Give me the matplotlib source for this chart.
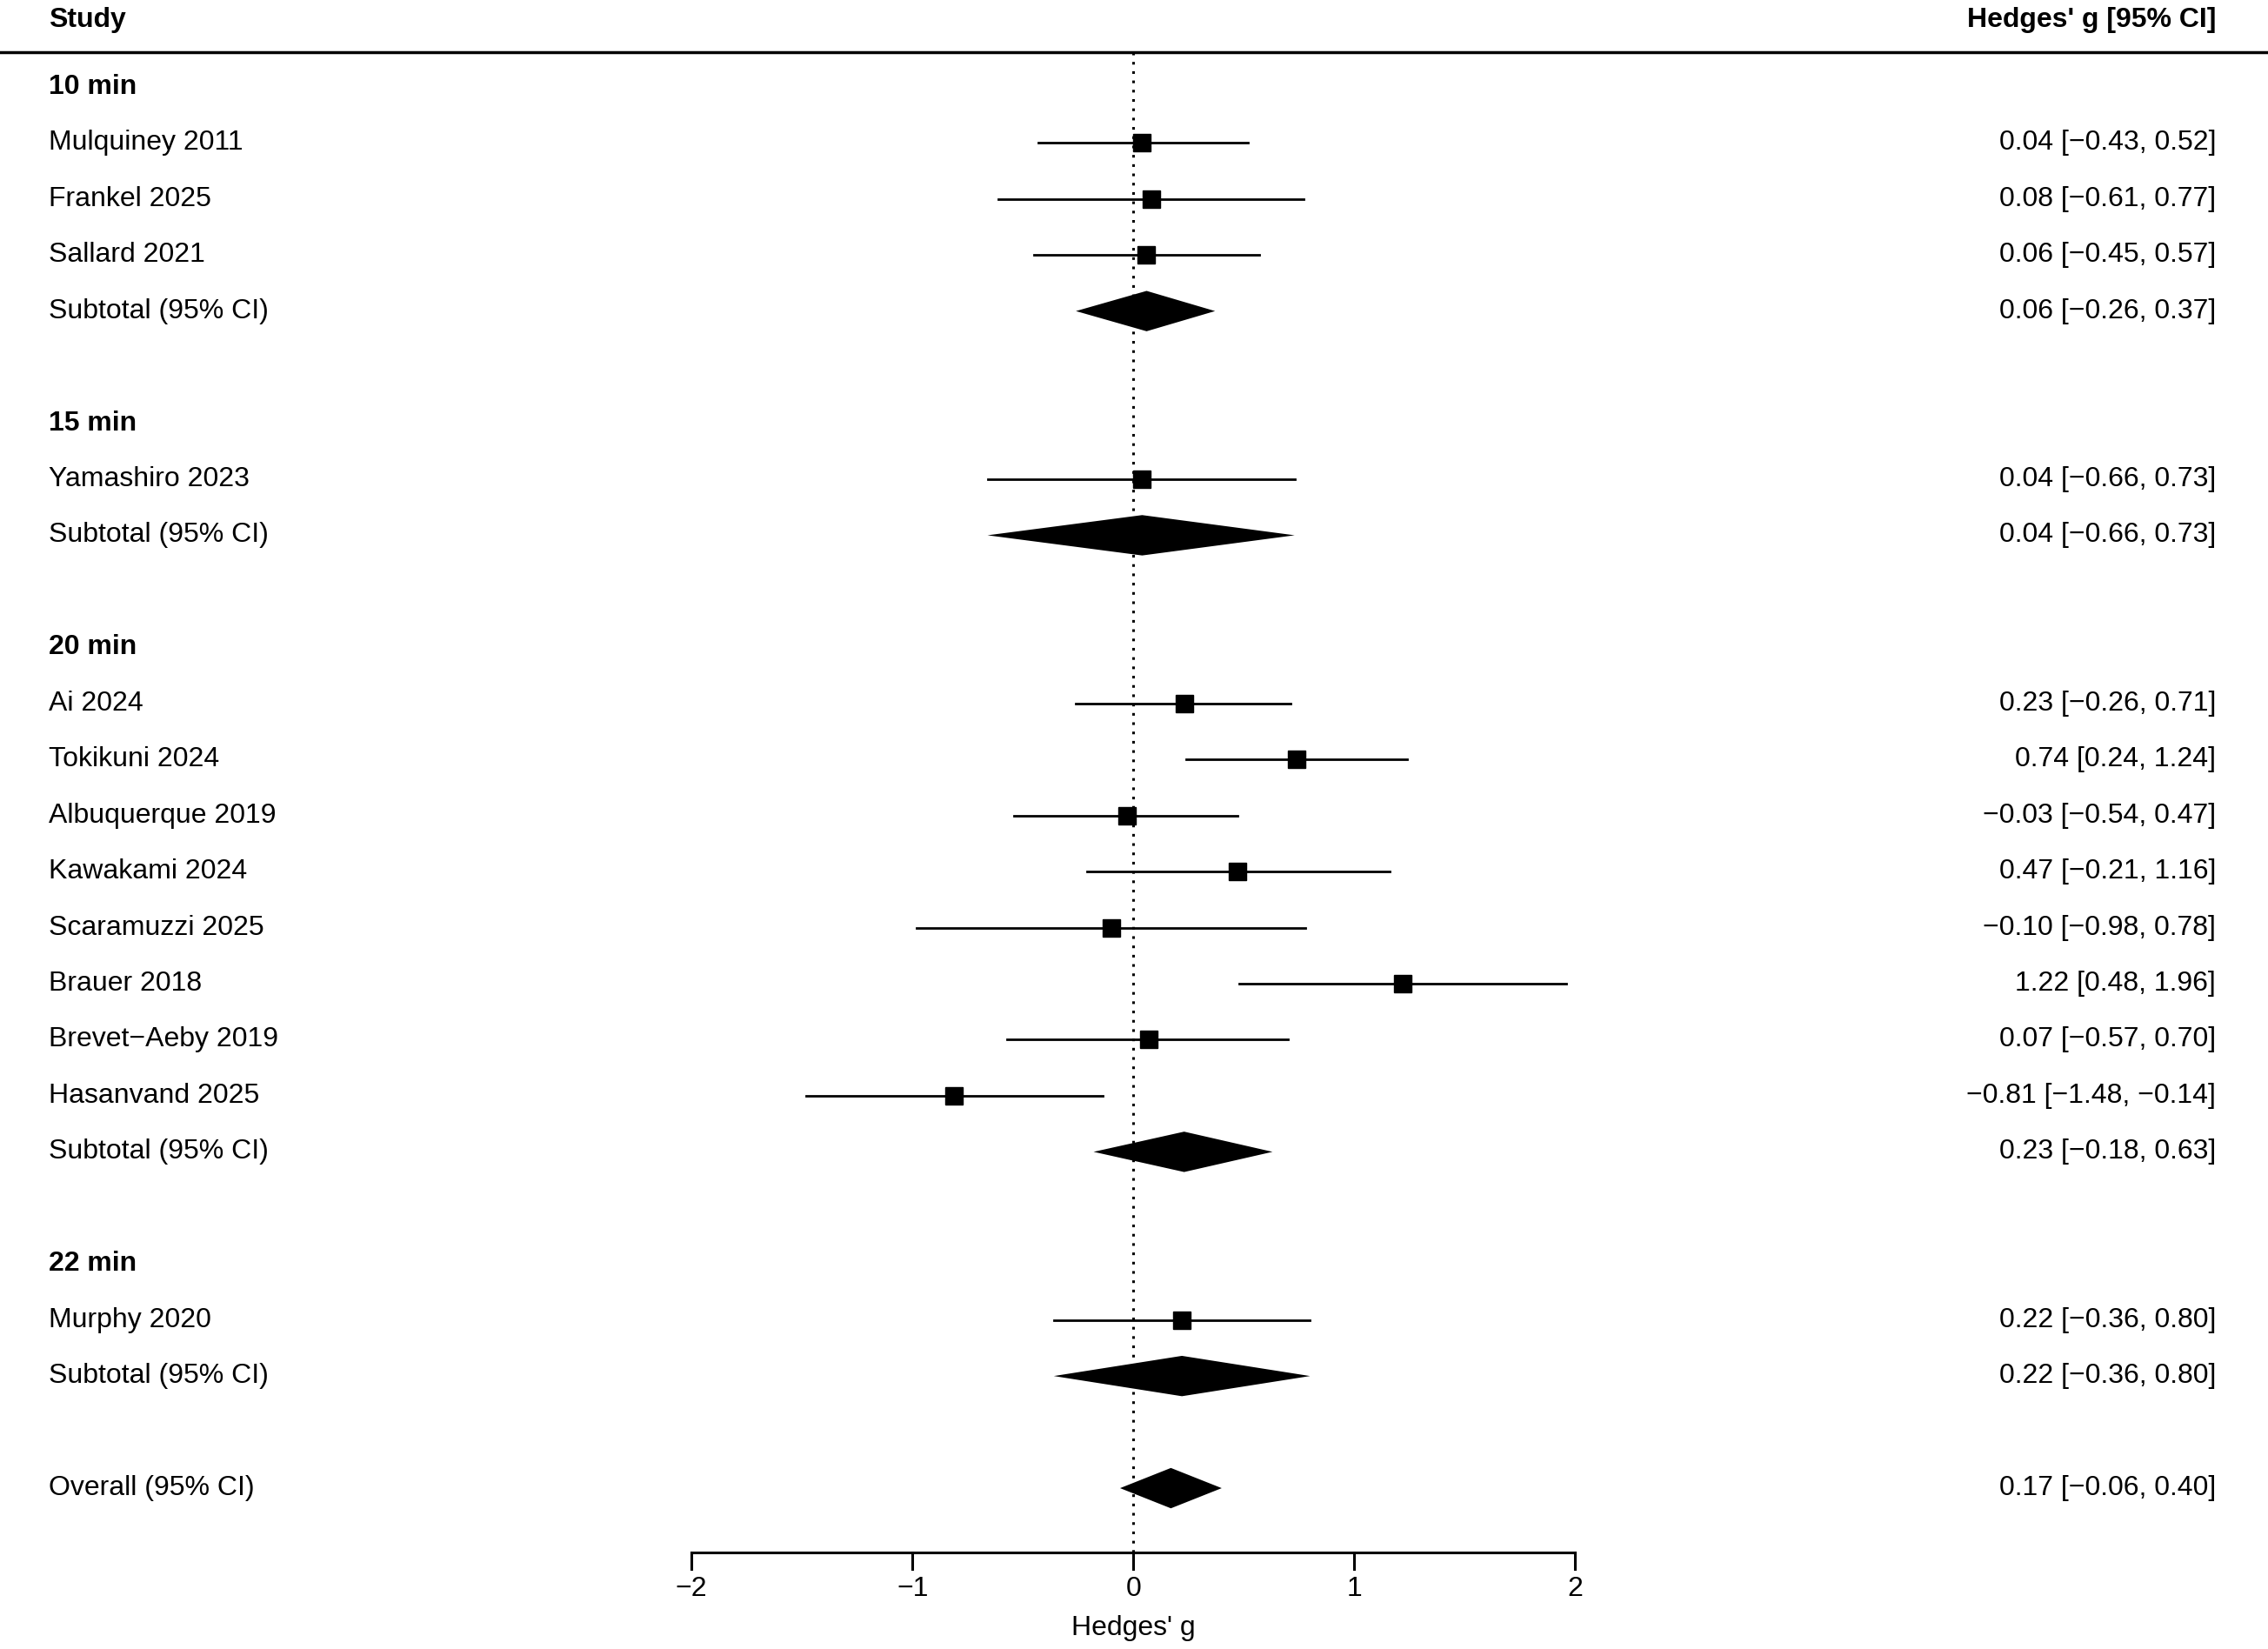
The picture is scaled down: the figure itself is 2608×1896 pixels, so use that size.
import numpy as np
import matplotlib
matplotlib.use("Agg")
import matplotlib.pyplot as plt
from matplotlib.patches import Polygon

plt.rcParams['font.family'] = ['Liberation Sans', 'DejaVu Sans']
plt.rcParams['axes.unicode_minus'] = True

# groups: (header, studies, est, lo, hi, subtotal)
groups = ["10 min", "15 min", "20 min", "22 min"]
studies = [
    ["Mulquiney 2011", "Frankel 2025", "Sallard 2021"],
    ["Yamashiro 2023"],
    ["Ai 2024", "Tokikuni 2024", "Albuquerque 2019", "Kawakami 2024",
     "Scaramuzzi 2025", "Brauer 2018", "Brevet\u2212Aeby 2019", "Hasanvand 2025"],
    ["Murphy 2020"],
]
est = [[0.04, 0.08, 0.06], [0.04],
       [0.23, 0.74, -0.03, 0.47, -0.10, 1.22, 0.07, -0.81], [0.22]]
lo = [[-0.43, -0.61, -0.45], [-0.66],
      [-0.26, 0.24, -0.54, -0.21, -0.98, 0.48, -0.57, -1.48], [-0.36]]
hi = [[0.52, 0.77, 0.57], [0.73],
      [0.71, 1.24, 0.47, 1.16, 0.78, 1.96, 0.70, -0.14], [0.80]]
sub_est = [0.06, 0.04, 0.23, 0.22]
sub_lo = [-0.26, -0.66, -0.18, -0.36]
sub_hi = [0.37, 0.73, 0.63, 0.80]
overall = (0.17, -0.06, 0.40)
xticks = [-2, -1, 0, 1, 2]

def fmt(e, l, h):
    s = "%.2f [%.2f, %.2f]" % (e, l, h)
    return s.replace("-", "\u2212")

fig = plt.figure(figsize=(26.08, 18.96), dpi=100)
ax = fig.add_axes([0, 0, 1, 1])
ax.set_xlim(-5.13, 5.136)
ax.set_ylim(27.87, -1.55)
ax.axis("off")

fs = 23
xl, xr = -4.91, 4.90
tr = ax.transData

ax.text(xl, -1.19, "Study", fontsize=fs, fontweight="bold", va="center")
ax.text(xr, -1.19, "Hedges' g [95% CI]", fontsize=fs, fontweight="bold",
        va="center", ha="right")
ax.plot([-5.13, 5.136], [-0.62, -0.62], color="black", lw=2.5)
ax.plot([0, 0], [-0.62, 26.14], color="black", lw=2.2, ls=(0, (1, 2.5)))

def diamond(y, e, l, h, hh=0.36):
    ax.add_patch(Polygon([[l, y], [e, y - hh], [h, y], [e, y + hh]],
                         closed=True, color="black", lw=0))

row = 0
for g in range(len(groups)):
    ax.text(xl, row, groups[g], fontsize=fs, fontweight="bold", va="center")
    row += 1
    for i in range(len(studies[g])):
        ax.text(xl, row, studies[g][i], fontsize=fs, va="center")
        ax.plot([lo[g][i], hi[g][i]], [row, row], color="black", lw=2)
        ax.plot(est[g][i], row, "s", color="black", ms=14)
        ax.text(xr, row, fmt(est[g][i], lo[g][i], hi[g][i]), fontsize=fs,
                va="center", ha="right")
        row += 1
    ax.text(xl, row, "Subtotal (95% CI)", fontsize=fs, va="center")
    diamond(row, sub_est[g], sub_lo[g], sub_hi[g])
    ax.text(xr, row, fmt(sub_est[g], sub_lo[g], sub_hi[g]), fontsize=fs,
            va="center", ha="right")
    row += 2

ax.text(xl, row, "Overall (95% CI)", fontsize=fs, va="center")
diamond(row, *overall)
ax.text(xr, row, fmt(*overall), fontsize=fs, va="center", ha="right")

ya = 26.14
ax.plot([xticks[0], xticks[-1]], [ya, ya], color="black", lw=2.2)
for t in xticks:
    ax.plot([t, t], [ya, ya + 0.3], color="black", lw=2.2)
    ax.text(t, 26.8, str(t).replace("-", "\u2212"), fontsize=fs,
            ha="center", va="center")
ax.text(0, 27.5, "Hedges' g", fontsize=fs, ha="center", va="center")

fig.savefig("out.png", dpi=100)
